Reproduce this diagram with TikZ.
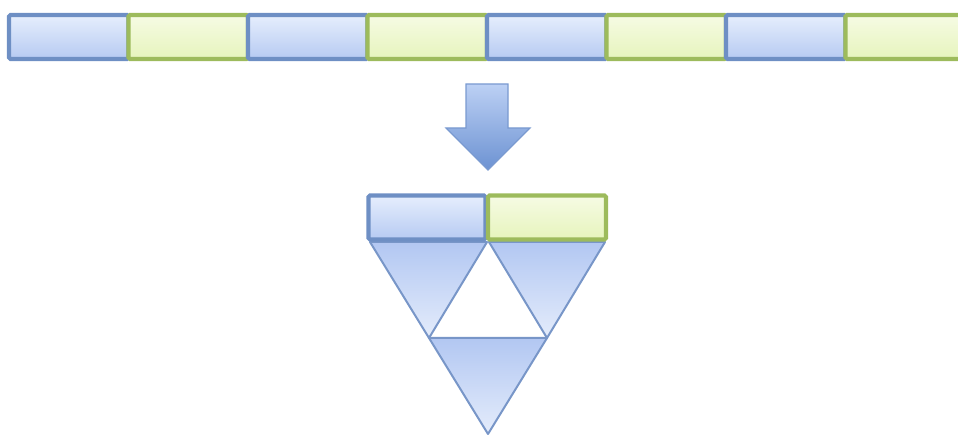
\documentclass[tikz,border=0pt]{standalone}
\begin{document}
\begin{tikzpicture}[x=1pt,y=-1pt,
  bbox/.style={draw=bborder,line width=4.2pt,rounded corners=1.5pt,top color=btop,bottom color=bbot,minimum height=44pt,inner sep=0pt,anchor=center},
  gbox/.style={draw=gborder,line width=4.2pt,rounded corners=1.5pt,top color=gtop,bottom color=gbot,minimum height=44pt,inner sep=0pt,anchor=center},
  tri/.style={draw=tborder,line width=2pt,line join=round,top color=ttop,bottom color=tbot},
  arr/.style={draw=aborder,line width=1.2pt,top color=atop,bottom color=abot}]
\definecolor{bborder}{HTML}{6E8FC4}
\definecolor{btop}{HTML}{E6EEFD}
\definecolor{bbot}{HTML}{B6CAF2}
\definecolor{gborder}{HTML}{9DBB5C}
\definecolor{gtop}{HTML}{F6FBE4}
\definecolor{gbot}{HTML}{E6F4BC}
\definecolor{tborder}{HTML}{7896C8}
\definecolor{ttop}{HTML}{B2C7F2}
\definecolor{tbot}{HTML}{E4ECFB}
\definecolor{aborder}{HTML}{7A9AD0}
\definecolor{atop}{HTML}{BCD0F4}
\definecolor{abot}{HTML}{6C92D2}
\useasboundingbox (0,0) rectangle (958,435);
% top row
\foreach \i in {0,...,7}{
  \pgfmathsetmacro{\cx}{9+119.5*(\i+0.5)}
  \pgfmathtruncatemacro{\parity}{mod(\i,2)}
  \ifnum\parity=0
    \node[bbox,minimum width=119.5pt] (t\i) at (\cx,37) {};
  \else
    \node[gbox,minimum width=119.5pt] (t\i) at (\cx,37) {};
  \fi
}
% arrow
\draw[arr] (466,84) -- (508,84) -- (508,128) -- (530,128) -- (488,170) -- (446,128) -- (466,128) -- cycle;
% triangles
\coordinate (A) at (370,242);
\coordinate (B) at (487,242);
\coordinate (C) at (489,242);
\coordinate (D) at (605,242);
\coordinate (E) at (429,338);
\coordinate (F) at (547,338);
\coordinate (G) at (488,434);
\draw[tri] (A) -- (B) -- (E) -- cycle;
\draw[tri] (C) -- (D) -- (F) -- cycle;
\draw[tri] (E) -- (F) -- (G) -- cycle;
% bottom boxes
\node[bbox,minimum width=117pt] (lb) at (427,217.5) {};
\node[gbox,minimum width=118pt] (rb) at (547,217.5) {};
\end{tikzpicture}
\end{document}
